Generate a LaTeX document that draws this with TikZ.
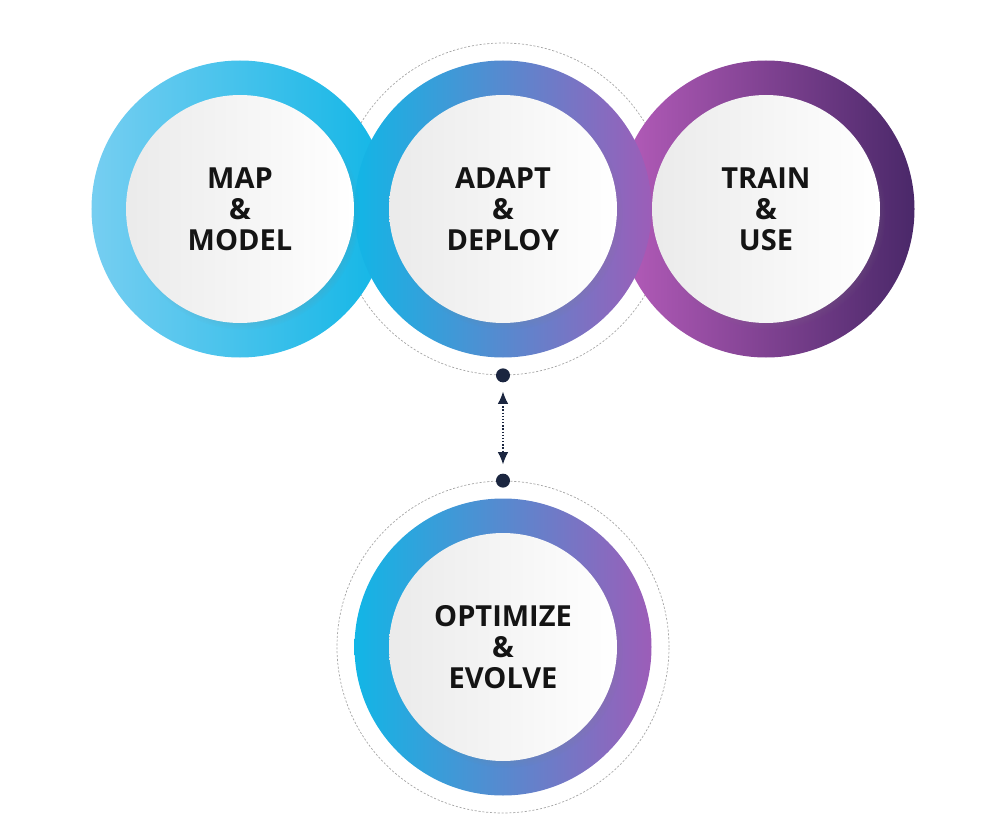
\documentclass[tikz,border=0pt]{standalone}
\usepackage{fontspec}
\setmainfont{Open Sans}
\usetikzlibrary{positioning,shadows,arrows.meta}
\definecolor{skyL}{HTML}{76CEF1}
\definecolor{skyD}{HTML}{12B6E6}
\definecolor{blueM}{HTML}{4C8DD4}
\definecolor{lilac}{HTML}{9C5DB8}
\definecolor{plumL}{HTML}{B55CBA}
\definecolor{plumD}{HTML}{4A2869}
\definecolor{navydot}{HTML}{1B2640}
\tikzstyle{halo} = [circle, draw=gray!70, dash pattern=on 1.2pt off 1pt, minimum size=6.64cm, inner sep=0pt]
\tikzstyle{ring} = [circle, minimum size=5.94cm, inner sep=0pt]
\tikzstyle{disc} = [circle, minimum size=4.56cm, inner sep=0pt,
    left color=gray!16, right color=white, text=black!92,
    circular drop shadow={shadow xshift=.07cm, shadow yshift=-.09cm, shadow scale=1.02, opacity=.3},
    font=\fontsize{16.5}{17.5}\selectfont\bfseries, align=center]
\tikzstyle{dot} = [circle, fill=navydot, minimum size=0.28cm, inner sep=0pt]
\newcommand{\stage}[2]{#1\\\&\\#2}

\begin{document}
\begin{tikzpicture}[node distance=5.26cm]
  \useasboundingbox (-4.8,4.18) rectangle (15.2,-12.1);
  \node[coordinate] (c1) at (0,0) {};
  \node[coordinate] (c2) [right of=c1] {};
  \node[coordinate] (c3) [right of=c2] {};
  \node[coordinate] (c4) [below of=c2, yshift=-3.5cm] {};

  \node[halo] (h2) at (c2) {};
  \node[halo] (h4) at (c4) {};

  \node[ring, left color=skyL, right color=skyD] (r1) at (c1) {};
  \node[ring, left color=plumL, right color=plumD] (r3) at (c3) {};
  \node[ring, left color=skyD, middle color=blueM, right color=lilac] (r2) at (c2) {};
  \node[ring, left color=skyD, middle color=blueM, right color=lilac] (r4) at (c4) {};

  \node[disc] (map)   at (r1) {\stage{MAP}{MODEL}};
  \node[disc] (adapt) at (r2) {\stage{ADAPT}{DEPLOY}};
  \node[disc] (train) at (r3) {\stage{TRAIN}{USE}};
  \node[disc] (optim) at (r4) {\stage{OPTIMIZE}{EVOLVE}};

  \node[dot] (dtop) at (h2.south) {};
  \node[dot] (dbot) at (h4.north) {};
  \draw[navydot, densely dotted, thick, {Latex[length=7pt,width=6pt]}-{Latex[length=7pt,width=6pt]},
        shorten <=5pt, shorten >=5pt] (dtop) -- (dbot);
\end{tikzpicture}
\end{document}
